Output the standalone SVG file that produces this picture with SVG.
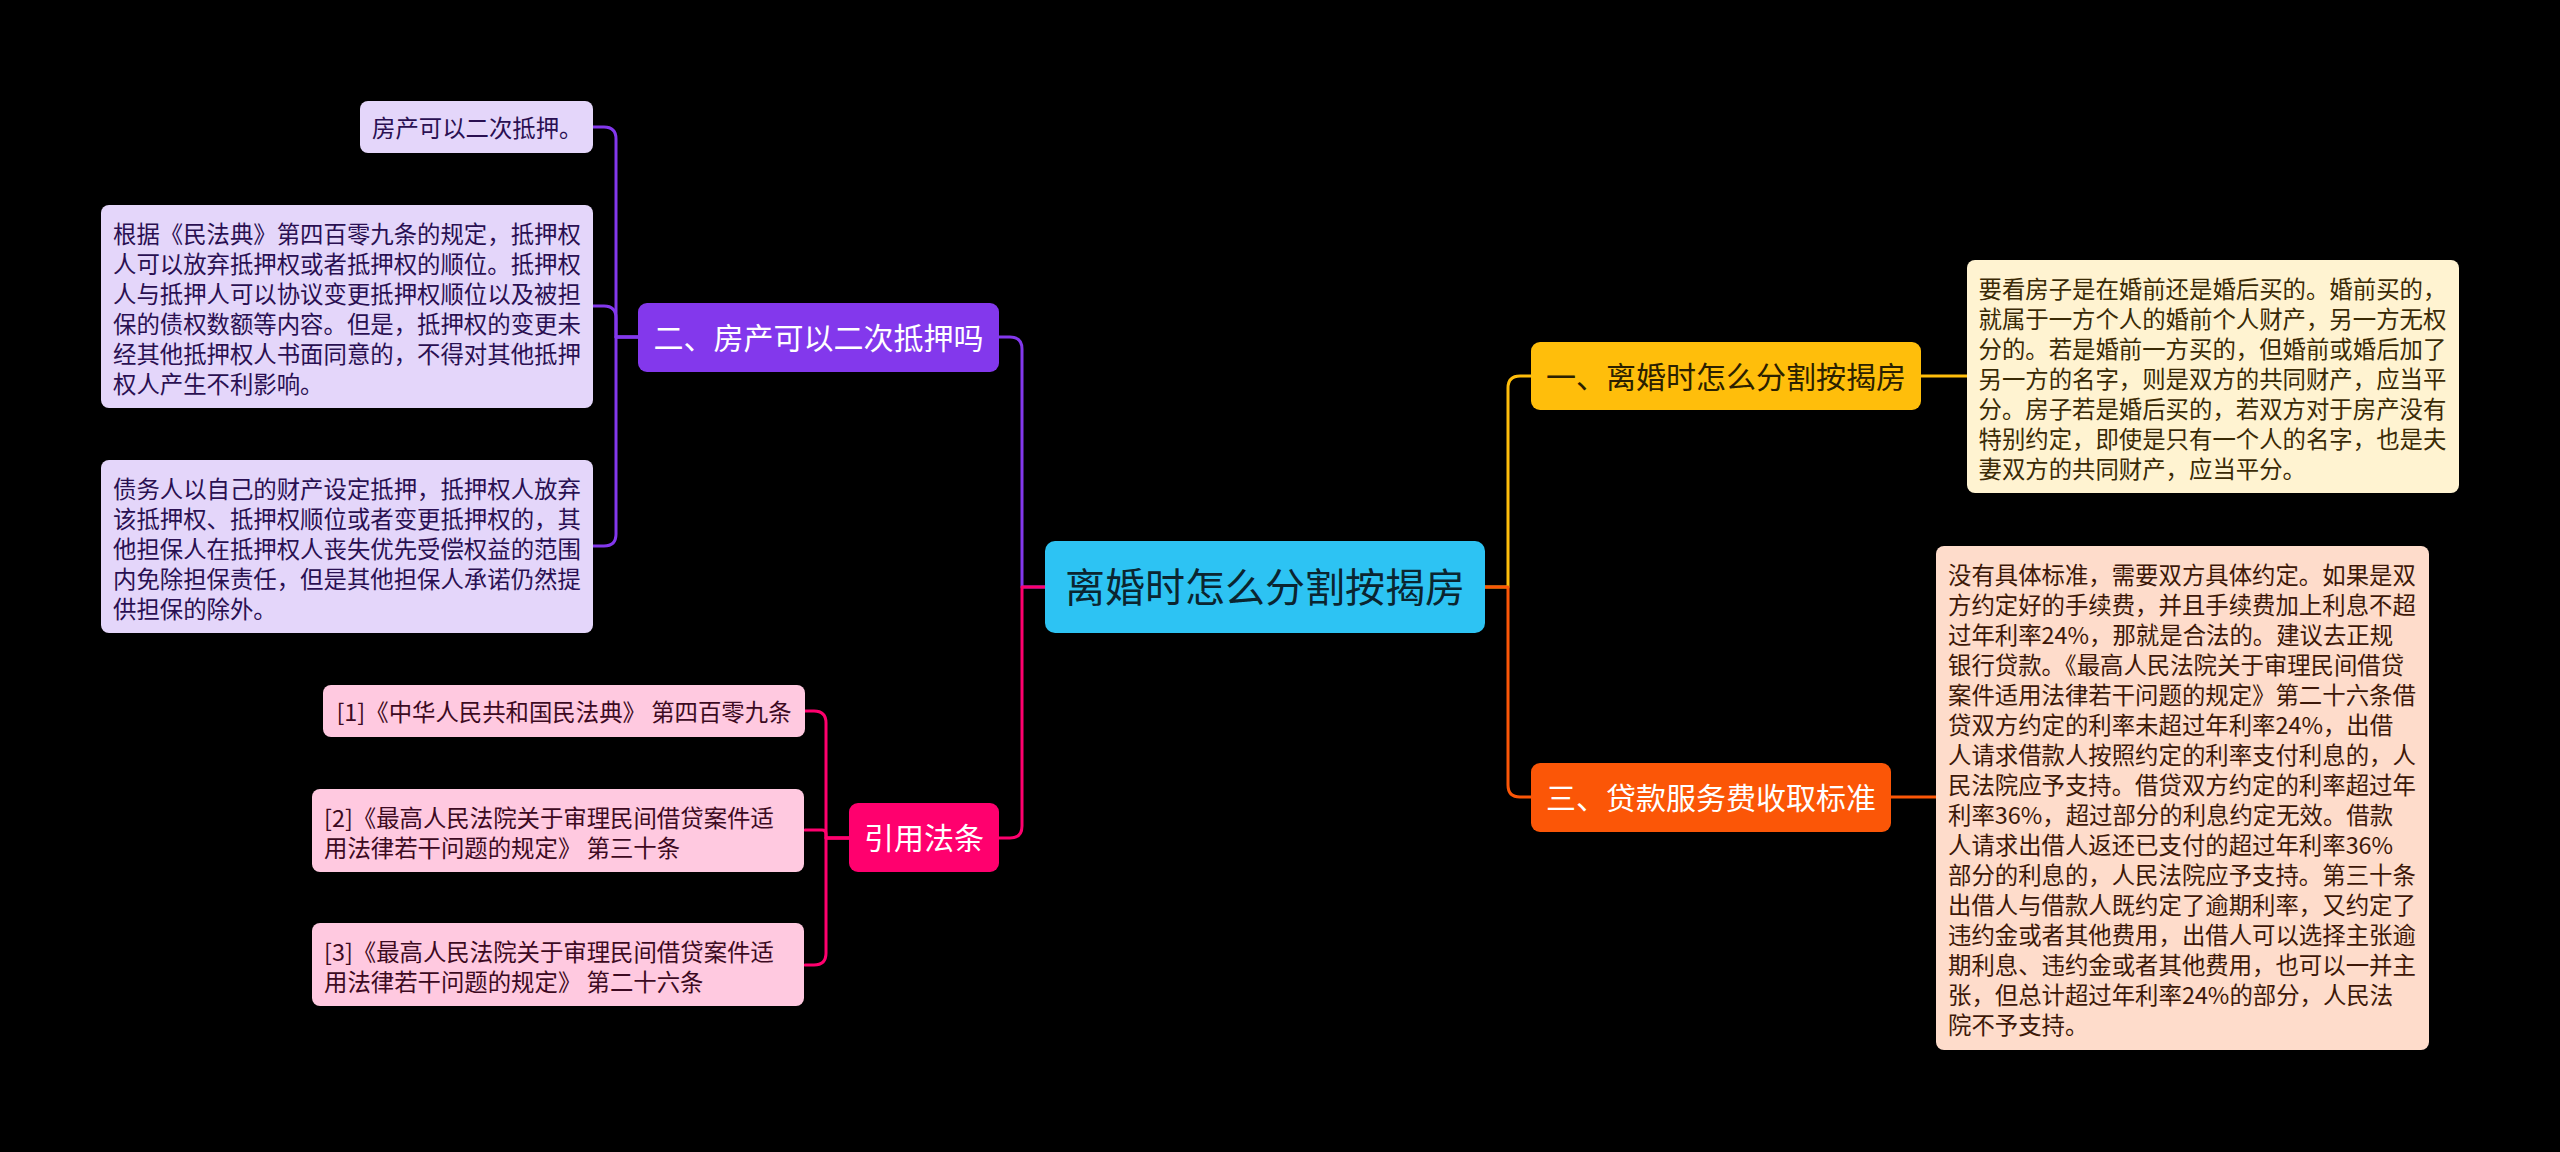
<svg xmlns="http://www.w3.org/2000/svg" width="2560" height="1152" viewBox="0 0 2560 1152">
<style>
text { font-family: "Noto Sans CJK SC", "Noto Sans", "Liberation Sans", sans-serif; }
.c { fill: none; stroke-width: 3; stroke-linecap: round; stroke-linejoin: round; }
.pur { stroke: #8338EC; }
.pnk { stroke: #FF006E; }
.yel { stroke: #FFBE0B; }
.org { stroke: #FB5607; }
.t30 { font-size: 30px; text-anchor: middle; }
.d { font-size: 23.4px; }
.dp { fill: #2A1052; }
.dk { fill: #3D0A22; }
.dy { fill: #3A2A05; }
.do { fill: #3D1808; }
</style>
<rect x="0" y="0" width="2560" height="1152" fill="#000000"/>

<g id="connectors">
  <path class="c pur" d="M1045,587 H1022 V349 Q1022,337 1010,337 H999"/>
  <path class="c pnk" d="M1045,587 H1022 V826 Q1022,838 1010,838 H999"/>
  <path class="c yel" d="M1485,587 H1508 V388 Q1508,376 1520,376 H1531"/>
  <path class="c org" d="M1485,587 H1508 V785 Q1508,797 1520,797 H1531"/>
  <path class="c yel" d="M1921,376 H1967"/>
  <path class="c org" d="M1891,797 H1936"/>
  <path class="c pur" d="M638,337 H616 V139 Q616,127 604,127 H593"/>
  <path class="c pur" d="M638,337 H616 V318 Q616,306 604,306 H593"/>
  <path class="c pur" d="M638,337 H616 V534 Q616,546 604,546 H593"/>
  <path class="c pnk" d="M849,838 H826 V723 Q826,711 814,711 H805"/>
  <path class="c pnk" d="M849,838 H826 V834 Q826,830 822,830 H805"/>
  <path class="c pnk" d="M849,838 H826 V953 Q826,965 814,965 H805"/>
</g>

<g id="root">
  <rect x="1045" y="541" width="440" height="92" rx="10" fill="#2DC3F3"/>
  <text x="1265" y="602" font-size="40" text-anchor="middle" fill="#0B2530">离婚时怎么分割按揭房</text>
</g>

<g id="n2">
  <rect x="638" y="303" width="361" height="69" rx="9" fill="#8338EC"/>
  <text class="t30" x="818.5" y="349" fill="#FFFFFF">二、房产可以二次抵押吗</text>
</g>
<g id="n1">
  <rect x="1531" y="342" width="390" height="68" rx="9" fill="#FFBE0B"/>
  <text class="t30" x="1726" y="387.5" fill="#2B2000">一、离婚时怎么分割按揭房</text>
</g>
<g id="n3">
  <rect x="1531" y="763" width="360" height="69" rx="9" fill="#FB5607"/>
  <text class="t30" x="1711" y="809" fill="#FFFFFF">三、贷款服务费收取标准</text>
</g>
<g id="n4">
  <rect x="849" y="803" width="150" height="69" rx="9" fill="#FF006E"/>
  <text class="t30" x="924" y="849" fill="#FFFFFF">引用法条</text>
</g>

<g id="n2a">
  <rect x="360" y="101" width="233" height="52" rx="8" fill="#E4D6FA"/>
  <text class="d dp" x="372" y="137">房产可以二次抵押。</text>
</g>
<g id="n2b">
  <rect x="101" y="205" width="492" height="203" rx="8" fill="#E4D6FA"/>
  <text class="d dp" x="113">
    <tspan x="113" y="242.5">根据《民法典》第四百零九条的规定，抵押权</tspan>
    <tspan x="113" y="272.5">人可以放弃抵押权或者抵押权的顺位。抵押权</tspan>
    <tspan x="113" y="302.5">人与抵押人可以协议变更抵押权顺位以及被担</tspan>
    <tspan x="113" y="332.5">保的债权数额等内容。但是，抵押权的变更未</tspan>
    <tspan x="113" y="362.5">经其他抵押权人书面同意的，不得对其他抵押</tspan>
    <tspan x="113" y="392.5">权人产生不利影响。</tspan>
  </text>
</g>
<g id="n2c">
  <rect x="101" y="460" width="492" height="173" rx="8" fill="#E4D6FA"/>
  <text class="d dp" x="113">
    <tspan x="113" y="497.5">债务人以自己的财产设定抵押，抵押权人放弃</tspan>
    <tspan x="113" y="527.5">该抵押权、抵押权顺位或者变更抵押权的，其</tspan>
    <tspan x="113" y="557.5">他担保人在抵押权人丧失优先受偿权益的范围</tspan>
    <tspan x="113" y="587.5">内免除担保责任，但是其他担保人承诺仍然提</tspan>
    <tspan x="113" y="617.5">供担保的除外。</tspan>
  </text>
</g>

<g id="c1">
  <rect x="323" y="685" width="482" height="52" rx="8" fill="#FFC9E0"/>
  <text class="d dk" x="564" y="721" text-anchor="middle">[1]《中华人民共和国民法典》 第四百零九条</text>
</g>
<g id="c2">
  <rect x="312" y="789" width="492" height="83" rx="8" fill="#FFC9E0"/>
  <text class="d dk" x="324">
    <tspan x="324" y="826.5">[2]《最高人民法院关于审理民间借贷案件适</tspan>
    <tspan x="324" y="856.5">用法律若干问题的规定》 第三十条</tspan>
  </text>
</g>
<g id="c3">
  <rect x="312" y="923" width="492" height="83" rx="8" fill="#FFC9E0"/>
  <text class="d dk" x="324">
    <tspan x="324" y="960.5">[3]《最高人民法院关于审理民间借贷案件适</tspan>
    <tspan x="324" y="990.5">用法律若干问题的规定》 第二十六条</tspan>
  </text>
</g>

<g id="n1a">
  <rect x="1967" y="260" width="492" height="233" rx="8" fill="#FFF3D1"/>
  <text class="d dy" x="1978.5">
    <tspan x="1978.5" y="297.5">要看房子是在婚前还是婚后买的。婚前买的，</tspan>
    <tspan x="1978.5" y="327.5">就属于一方个人的婚前个人财产，另一方无权</tspan>
    <tspan x="1978.5" y="357.5">分的。若是婚前一方买的，但婚前或婚后加了</tspan>
    <tspan x="1978.5" y="387.5">另一方的名字，则是双方的共同财产，应当平</tspan>
    <tspan x="1978.5" y="417.5">分。房子若是婚后买的，若双方对于房产没有</tspan>
    <tspan x="1978.5" y="447.5">特别约定，即使是只有一个人的名字，也是夫</tspan>
    <tspan x="1978.5" y="477.5">妻双方的共同财产，应当平分。</tspan>
  </text>
</g>

<g id="n3a">
  <rect x="1936" y="546" width="493" height="504" rx="8" fill="#FEDCCB"/>
  <text class="d do" x="1948">
    <tspan x="1948" y="583.5">没有具体标准，需要双方具体约定。如果是双</tspan>
    <tspan x="1948" y="613.5">方约定好的手续费，并且手续费加上利息不超</tspan>
    <tspan x="1948" y="643.5">过年利率24%，那就是合法的。建议去正规</tspan>
    <tspan x="1948" y="673.5">银行贷款。《最高人民法院关于审理民间借贷</tspan>
    <tspan x="1948" y="703.5">案件适用法律若干问题的规定》第二十六条借</tspan>
    <tspan x="1948" y="733.5">贷双方约定的利率未超过年利率24%，出借</tspan>
    <tspan x="1948" y="763.5">人请求借款人按照约定的利率支付利息的，人</tspan>
    <tspan x="1948" y="793.5">民法院应予支持。借贷双方约定的利率超过年</tspan>
    <tspan x="1948" y="823.5">利率36%，超过部分的利息约定无效。借款</tspan>
    <tspan x="1948" y="853.5">人请求出借人返还已支付的超过年利率36%</tspan>
    <tspan x="1948" y="883.5">部分的利息的，人民法院应予支持。第三十条</tspan>
    <tspan x="1948" y="913.5">出借人与借款人既约定了逾期利率，又约定了</tspan>
    <tspan x="1948" y="943.5">违约金或者其他费用，出借人可以选择主张逾</tspan>
    <tspan x="1948" y="973.5">期利息、违约金或者其他费用，也可以一并主</tspan>
    <tspan x="1948" y="1003.5">张，但总计超过年利率24%的部分，人民法</tspan>
    <tspan x="1948" y="1033.5">院不予支持。</tspan>
  </text>
</g>
</svg>
